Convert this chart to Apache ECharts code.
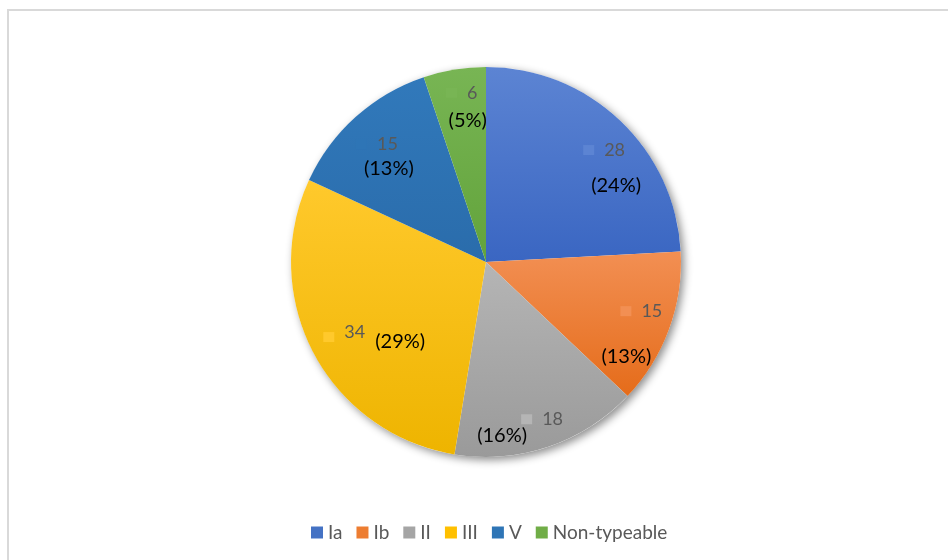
<!DOCTYPE html>
<html>
<head>
<meta charset="utf-8">
<script src="https://cdn.jsdelivr.net/npm/echarts@6/dist/echarts.min.js"></script>
<style>
  html, body { margin: 0; padding: 0; background: #fff; width: 948px; height: 560px; overflow: hidden; }
  #frame { position: absolute; left: 7px; top: 9px; width: 1000px; height: 600px;
           border-left: 2px solid #d9d9d9; border-top: 2px solid #d9d9d9; }
  #chart { position: absolute; left: 0; top: 0; width: 948px; height: 560px; }
</style>
</head>
<body>
<div id="frame"></div>
<div id="chart"></div>
<script>
// Serotype distribution
const categories = ['Ia', 'Ib', 'II', 'III', 'V', 'Non-typeable'];
const counts = [28, 15, 18, 34, 15, 6];
const percents = [24, 13, 16, 29, 13, 5];

// Slice fills: lighter at top, darker at bottom
const baseColors = ['#4472C4', '#ED7D31', '#A5A5A5', '#FFC000', '#2E75B6', '#70AD47'];
const topColors = ['#5c84d3', '#f28f53', '#b5b5b5', '#ffc92c', '#3179bb', '#78b554'];
const bottomColors = ['#3a66c2', '#e56c1a', '#9a9a9a', '#eeb400', '#2a6cab', '#62a33b'];

// Label arrangement per slice: nudge of the label block, horizontal shift of
// the first line against the second, and spacing between the two lines
const labelNudge = [[61, -21], [46, 37], [-16, 70], [-23, 28], [-30, -31], [-2, -56]];
const firstLineShift = [-12, 15, 40, 0, -12, -6];
const lineSpacing = [36, 45, 16, 0, 24, 28];

function grad(i) {
  return new echarts.graphic.LinearGradient(0, 0, 0, 1, [
    { offset: 0, color: topColors[i] },
    { offset: 1, color: bottomColors[i] }
  ]);
}

const FONT = 'Lato, "Open Sans", sans-serif';

const pieData = categories.map((name, i) => {
  const s = firstLineShift[i];
  const L = lineSpacing[i];
  const rich = {
    k: { width: 11, height: 10, backgroundColor: i === 4 ? baseColors[i] : topColors[i] },
    g: { width: 10 },
    sL: { width: s > 0 ? 2 * s : 0 },
    sR: { width: s < 0 ? -2 * s : 0 },
    v: { fontSize: 18, color: '#595959', fontFamily: FONT, lineHeight: L || 20 },
    p: { fontSize: 20, color: '#000000', fontFamily: FONT, lineHeight: L || 20 },
    vt: { fontSize: 18, color: '#595959', fontFamily: FONT, lineHeight: 20, verticalAlign: 'top' },
    pb: { fontSize: 20, color: '#000000', fontFamily: FONT, lineHeight: 20, verticalAlign: 'bottom' },
    tall: { width: 0, height: 28 }
  };
  let text;
  if (L === 0) {
    // value and percentage on one line, percentage set a little lower
    text = '{tall|}{k|}{g|}{vt|' + counts[i] + '}{g|}{pb|(' + percents[i] + '%)}';
  } else {
    text = '{sL|}{k|}{g|}{v|' + counts[i] + '}{sR|}\n{p|(' + percents[i] + '%)}';
  }
  return {
    name: name,
    value: counts[i],
    itemStyle: { color: grad(i) },
    label: {
      show: true,
      position: 'inside',
      formatter: text,
      rich: rich,
      offset: labelNudge[i]
    }
  };
});

const total = counts.reduce((a, b) => a + b, 0);

const chart = echarts.init(document.getElementById('chart'), null, { renderer: 'canvas' });
chart.setOption({
  backgroundColor: 'transparent',
  animation: false,
  legend: {
    data: categories.map((c, i) => ({ name: c, itemStyle: { color: baseColors[i] } })),
    top: 518,
    left: 306,
    icon: 'rect',
    itemWidth: 12,
    itemHeight: 12,
    itemGap: 14,
    textStyle: { fontSize: 19, color: '#595959', fontFamily: FONT }
  },
  series: [
    {
      // soft drop shadow behind the whole pie
      type: 'pie',
      silent: true,
      legendHoverLink: false,
      center: [486, 262],
      radius: 195,
      z: 1,
      label: { show: false },
      labelLine: { show: false },
      itemStyle: {
        color: '#ffffff',
        shadowBlur: 9,
        shadowColor: 'rgba(0,0,0,0.45)',
        shadowOffsetX: 3,
        shadowOffsetY: 3
      },
      data: [{ name: '', value: total }]
    },
    {
      type: 'pie',
      center: [486, 262],
      radius: 195,
      startAngle: 90,
      clockwise: true,
      z: 2,
      itemStyle: { borderWidth: 0 },
      labelLine: { show: false },
      emphasis: { disabled: true },
      data: pieData
    }
  ]
});
</script>
</body>
</html>
